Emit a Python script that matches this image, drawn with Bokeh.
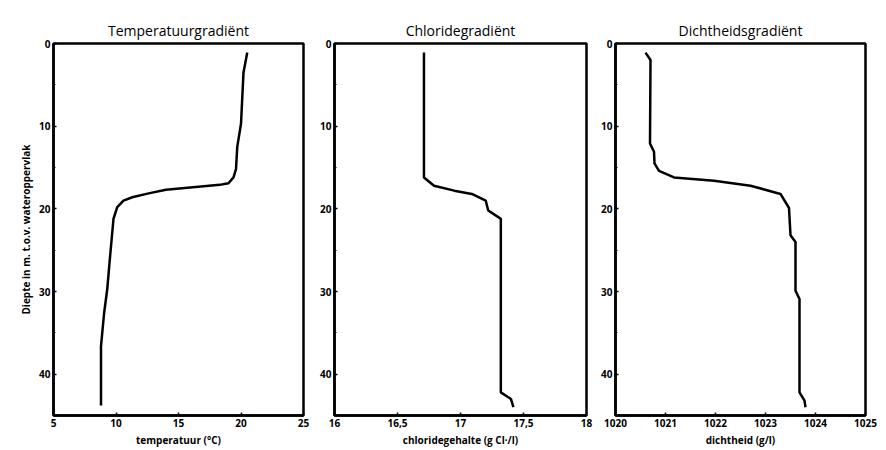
from bokeh.plotting import figure
from bokeh.layouts import row
from bokeh.models import Range1d, FixedTicker
from bokeh.embed import file_html
from bokeh.resources import INLINE

# Data (depth in m below water surface)
temp_c = [20.5, 20.2, 20.0, 19.7, 19.6, 19.4, 19.0, 18.3, 14.0, 12.7, 11.3, 10.6, 10.1, 9.8, 9.5, 9.3, 9.05, 8.8, 8.8]
temp_depth = [1.1, 3.5, 9.7, 12.5, 15.2, 16.2, 16.9, 17.1, 17.7, 18.1, 18.6, 19.0, 19.8, 21.2, 26.2, 29.7, 32.6, 36.6, 43.8]

chloride = [16.71, 16.71, 16.79, 16.95, 17.09, 17.2, 17.22, 17.3, 17.32, 17.32, 17.4, 17.42]
chloride_depth = [1.1, 16.2, 17.2, 17.8, 18.2, 19.0, 20.2, 21.0, 21.2, 42.2, 43.0, 44.0]

density = [1020.6, 1020.7, 1020.69, 1020.77, 1020.78, 1020.87, 1021.17, 1021.97, 1022.7, 1023.3, 1023.47,
           1023.5, 1023.6, 1023.6, 1023.68, 1023.68, 1023.78, 1023.8]
density_depth = [1.1, 2.0, 12.1, 13.1, 14.5, 15.4, 16.2, 16.6, 17.2, 18.2, 19.9,
                 23.2, 24.0, 29.9, 30.9, 42.2, 43.2, 44.0]

titles = ["Temperatuurgradiënt", "Chloridegradiënt", "Dichtheidsgradiënt"]
x_labels = ["temperatuur (°C)", "chloridegehalte (g Cl·/l)", "dichtheid (g/l)"]
y_label = "Diepte in m. t.o.v. wateroppervlak"

temp_ticks = [5, 10, 15, 20, 25]
chloride_ticks = [16, 16.5, 17, 17.5, 18]
chloride_tick_labels = ["16", "16,5", "17", "17,5", "18"]
density_ticks = [1020, 1021, 1022, 1023, 1024, 1025]
depth_ticks = [0, 10, 20, 30, 40]
depth_minor = [5, 15, 25, 35, 45]

FONT = "Open Sans"


def make_fig(width, left, right, xr, xticks, title, xlabel, ylabel=None, overrides=None):
    p = figure(width=width, height=450, output_backend="svg", toolbar_location=None,
               x_range=Range1d(*xr), y_range=Range1d(45, 0),
               min_border_left=left, min_border_right=right,
               min_border_top=43, min_border_bottom=35)
    p.title.text = title
    p.title.align = "center"
    p.title.text_font = FONT
    p.title.text_font_size = "14px"
    p.title.text_font_style = "normal"
    p.title.text_color = "black"
    p.title.standoff = 8
    p.grid.visible = False
    p.outline_line_color = "black"
    p.outline_line_width = 2.5
    p.background_fill_color = "white"
    p.border_fill_color = "white"
    for ax in (p.xaxis[0], p.yaxis[0]):
        ax.axis_line_width = 2.5
        ax.axis_line_color = "black"
        ax.major_tick_in = 3
        ax.major_tick_out = 0
        ax.minor_tick_in = 2
        ax.minor_tick_out = 0
        ax.major_tick_line_width = 1.5
        ax.major_tick_line_color = "black"
        ax.minor_tick_line_color = "black"
        ax.major_label_text_font = FONT
        ax.major_label_text_font_style = "bold"
        ax.major_label_text_font_size = "10px"
        ax.major_label_text_color = "black"
        ax.major_label_standoff = 3
        ax.axis_label_text_font = FONT
        ax.axis_label_text_font_style = "bold"
        ax.axis_label_text_font_size = "10px"
        ax.axis_label_text_color = "black"
        ax.axis_label_standoff = 3
    p.xaxis.ticker = FixedTicker(ticks=xticks)
    p.xaxis.axis_label = xlabel
    if overrides:
        p.xaxis.major_label_overrides = overrides
    p.yaxis.ticker = FixedTicker(ticks=depth_ticks, minor_ticks=depth_minor)
    if ylabel:
        p.yaxis.axis_label = ylabel
    return p


p1 = make_fig(312, 53, 9, (5, 25), temp_ticks, titles[0], x_labels[0], y_label)
p1.line(temp_c, temp_depth, line_color="black", line_width=2.5)

p2 = make_fig(281, 22, 7, (16, 18), chloride_ticks, titles[1], x_labels[1],
              overrides={t: l for t, l in zip(chloride_ticks, chloride_tick_labels)})
p2.line(chloride, chloride_depth, line_color="black", line_width=2.5)

p3 = make_fig(293, 22, 21, (1020, 1025), density_ticks, titles[2], x_labels[2])
p3.line(density, density_depth, line_color="black", line_width=2.5)

layout = row(p1, p2, p3, spacing=0)

open("out.html", "w").write(file_html(layout, INLINE))
